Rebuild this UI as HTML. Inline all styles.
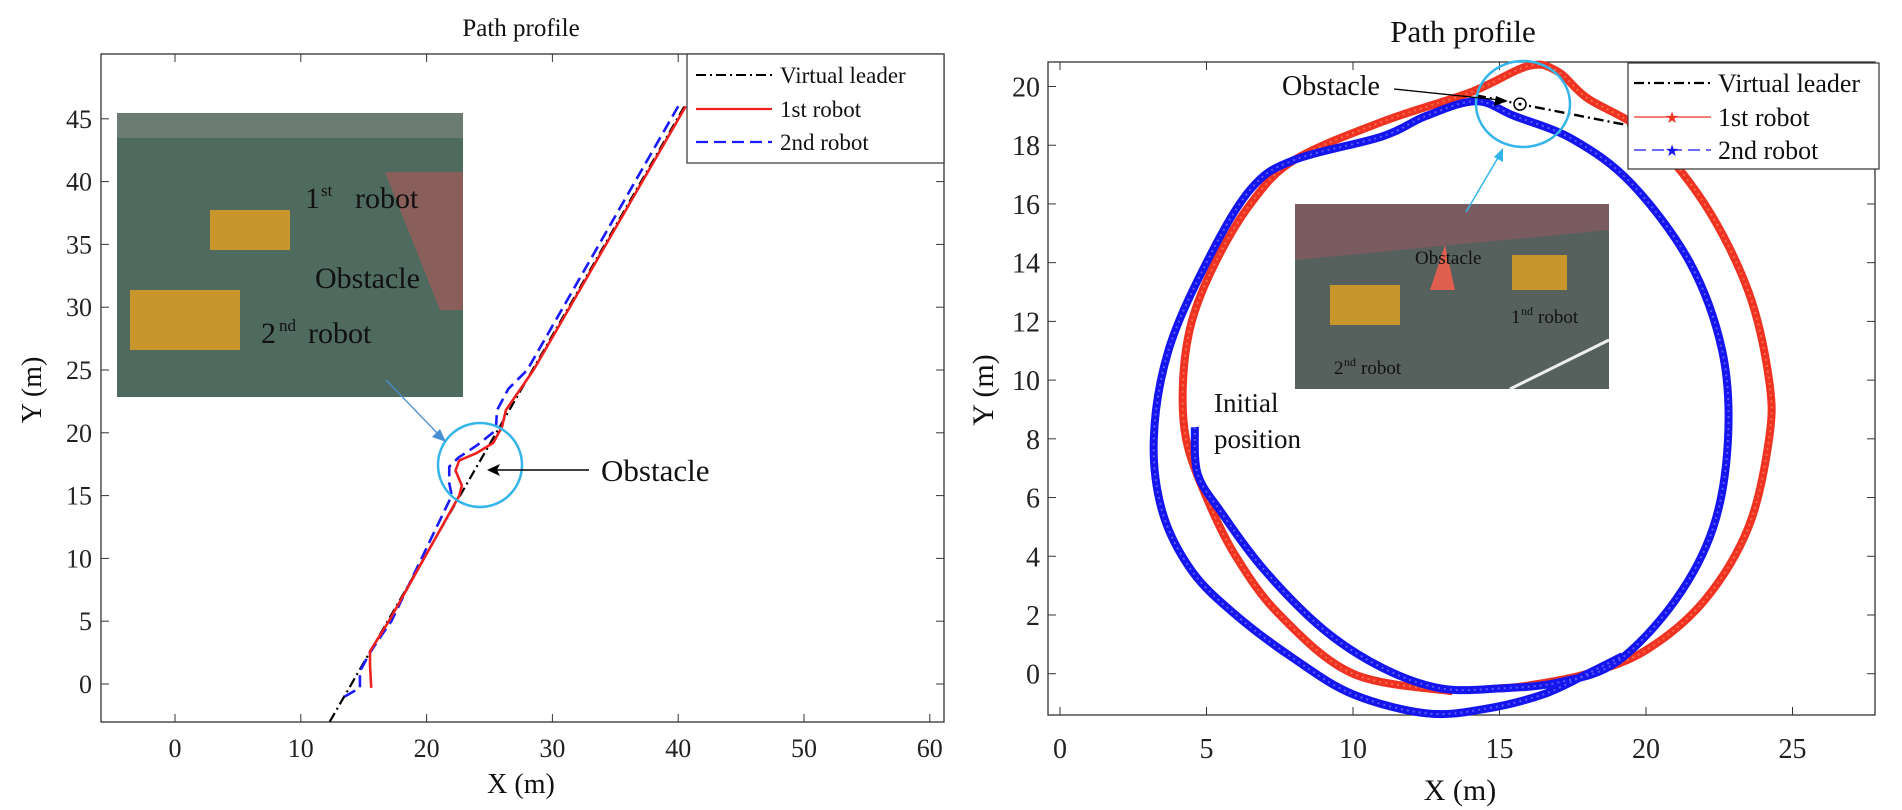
<!DOCTYPE html>
<html><head><meta charset="utf-8">
<style>
html,body{margin:0;padding:0;background:#fff;}
svg{display:block;font-family:"Liberation Serif",serif;}
</style></head>
<body>
<svg id="s" width="1902" height="810" viewBox="0 0 1902 810" xmlns="http://www.w3.org/2000/svg">
<rect width="1902" height="810" fill="#fff"/>
<g id="L"></g>
<g id="R"></g>
</svg>
<script>
const NS="http://www.w3.org/2000/svg";
function el(p,t,a,txt){const e=document.createElementNS(NS,t);for(const k in a)e.setAttribute(k,a[k]);if(txt!==undefined)e.textContent=txt;p.appendChild(e);return e;}
function smooth(pts){ // catmull-rom to bezier
 let d="M"+pts[0][0]+","+pts[0][1];
 for(let i=0;i<pts.length-1;i++){const p0=pts[i-1]||pts[i],p1=pts[i],p2=pts[i+1],p3=pts[i+2]||p2;
  const c1=[p1[0]+(p2[0]-p0[0])/6,p1[1]+(p2[1]-p0[1])/6],c2=[p2[0]-(p3[0]-p1[0])/6,p2[1]-(p3[1]-p1[1])/6];
  d+=" C"+c1[0].toFixed(1)+","+c1[1].toFixed(1)+" "+c2[0].toFixed(1)+","+c2[1].toFixed(1)+" "+p2[0].toFixed(1)+","+p2[1].toFixed(1);}
 return d;}
// ---------- LEFT ----------
const L=document.getElementById("L");
const lx=x=>175+12.58*x, ly=y=>684-12.56*y;
const LX0=101,LX1=944,LY0=54,LY1=722;
el(L,"text",{x:521,y:36,"font-size":25,"text-anchor":"middle",fill:"#111"},"Path profile");
// photo
el(L,"rect",{x:117,y:113,width:346,height:284,fill:"#4f6a5e"});
el(L,"rect",{x:117,y:113,width:346,height:25,fill:"#6d7c72"});
el(L,"polygon",{points:"385,172 463,172 463,310 440,310",fill:"#8a5e5a"});
el(L,"rect",{x:210,y:210,width:80,height:40,fill:"#c8962a"});
el(L,"rect",{x:130,y:290,width:110,height:60,fill:"#c8962a"});
el(L,"text",{x:305,y:208,"font-size":30,fill:"#111"},"1");
el(L,"text",{x:321,y:196,"font-size":17,fill:"#111"},"st");
el(L,"text",{x:355,y:208,"font-size":30,fill:"#111"},"robot");
el(L,"text",{x:315,y:288,"font-size":30,fill:"#111"},"Obstacle");
el(L,"text",{x:261,y:343,"font-size":30,fill:"#111"},"2");
el(L,"text",{x:279,y:331,"font-size":17,fill:"#111"},"nd");
el(L,"text",{x:308,y:343,"font-size":30,fill:"#111"},"robot");
// axes box
el(L,"rect",{x:LX0,y:LY0,width:LX1-LX0,height:LY1-LY0,fill:"none",stroke:"#333","stroke-width":1.3});
for(let v=0;v<=60;v+=10){const X=lx(v);el(L,"line",{x1:X,y1:LY1,x2:X,y2:LY1-8,stroke:"#333"});el(L,"line",{x1:X,y1:LY0,x2:X,y2:LY0+8,stroke:"#333"});
 el(L,"text",{x:X,y:757,"font-size":26,"text-anchor":"middle",fill:"#222"},v);}
for(let v=0;v<=45;v+=5){const Y=ly(v);el(L,"line",{x1:LX0,y1:Y,x2:LX0+8,y2:Y,stroke:"#333"});el(L,"line",{x1:LX1,y1:Y,x2:LX1-8,y2:Y,stroke:"#333"});
 el(L,"text",{x:92,y:Y+9,"font-size":26,"text-anchor":"end",fill:"#222"},v);}
el(L,"text",{x:521,y:793,"font-size":28,"text-anchor":"middle",fill:"#111"},"X (m)");
el(L,"text",{x:0,y:0,"font-size":28,"text-anchor":"middle",fill:"#111",transform:"translate(41,390) rotate(-90)"},"Y (m)");
// curves
const P=a=>a.map(p=>[lx(p[0]),ly(p[1])]);
el(L,"line",{x1:lx(12.3),y1:ly(-3),x2:lx(40.5),y2:ly(46),stroke:"#000","stroke-width":2.2,"stroke-dasharray":"10,4,2,4"});
const blue=[[13.5,-1],[14.7,-0.3],[14.7,1],[15.5,2.5],[16.5,4],[17.2,5],[22,15],[21.8,16],[21.8,17.3],[22.5,18],[24,19],[25.5,20.2],[25.6,21.8],[26.5,23.5],[28,25],[40,46]];
el(L,"polyline",{points:P(blue).join(" "),fill:"none",stroke:"#1a1aff","stroke-width":2.6,"stroke-dasharray":"12,6"});
const red=[[15.6,-0.3],[15.5,1.5],[15.5,2.6],[17,5],[22.6,15],[22.8,15.8],[22.3,17],[22.6,17.8],[24,18.4],[25.3,19.2],[26,20.5],[26.3,21.8],[28.5,25],[40.6,46]];
el(L,"polyline",{points:P(red).join(" "),fill:"none",stroke:"#ee2020","stroke-width":2.6,"stroke-linejoin":"round"});
el(L,"circle",{cx:480,cy:465,r:42,fill:"none",stroke:"#33b5ea","stroke-width":2.5});
el(L,"line",{x1:386,y1:380,x2:440,y2:436,stroke:"#4a90d0","stroke-width":1.3});
el(L,"polygon",{points:"446,442 432,437 440,429",fill:"#4a90d0"});
el(L,"line",{x1:589,y1:470,x2:495,y2:470,stroke:"#000","stroke-width":1.5});
el(L,"polygon",{points:"487,470 500,464 497,470 500,476",fill:"#000"});
el(L,"text",{x:601,y:481,"font-size":31,fill:"#111"},"Obstacle");
// legend
el(L,"rect",{x:687,y:54,width:257,height:109,fill:"#fff",stroke:"#333","stroke-width":1.2});
el(L,"line",{x1:696,y1:75,x2:772,y2:75,stroke:"#000","stroke-width":2,"stroke-dasharray":"10,4,2,4"});
el(L,"line",{x1:696,y1:109,x2:772,y2:109,stroke:"#ee2020","stroke-width":2.2});
el(L,"line",{x1:696,y1:142,x2:772,y2:142,stroke:"#1a1aff","stroke-width":2.2,"stroke-dasharray":"12,6"});
el(L,"text",{x:780,y:83,"font-size":23,fill:"#111"},"Virtual leader");
el(L,"text",{x:780,y:117,"font-size":23,fill:"#111"},"1st robot");
el(L,"text",{x:780,y:150,"font-size":23,fill:"#111"},"2nd robot");
// ---------- RIGHT ----------
const R=document.getElementById("R");
const rx=x=>1060+29.3*x, ry=y=>673.7-29.36*y;
const RX0=1048,RX1=1875,RY0=62,RY1=715;
el(R,"text",{x:1463,y:42,"font-size":31,"text-anchor":"middle",fill:"#111"},"Path profile");
el(R,"rect",{x:RX0,y:RY0,width:RX1-RX0,height:RY1-RY0,fill:"none",stroke:"#333","stroke-width":1.3});
for(let v=0;v<=25;v+=5){const X=rx(v);el(R,"line",{x1:X,y1:RY1,x2:X,y2:RY1-8,stroke:"#333"});el(R,"line",{x1:X,y1:RY0,x2:X,y2:RY0+8,stroke:"#333"});
 el(R,"text",{x:X,y:758,"font-size":28,"text-anchor":"middle",fill:"#222"},v);}
for(let v=0;v<=20;v+=2){const Y=ry(v);el(R,"line",{x1:RX0,y1:Y,x2:RX0+8,y2:Y,stroke:"#333"});el(R,"line",{x1:RX1,y1:Y,x2:RX1-8,y2:Y,stroke:"#333"});
 el(R,"text",{x:1040,y:Y+10,"font-size":28,"text-anchor":"end",fill:"#222"},v);}
el(R,"text",{x:1460,y:800,"font-size":30,"text-anchor":"middle",fill:"#111"},"X (m)");
el(R,"text",{x:0,y:0,"font-size":30,"text-anchor":"middle",fill:"#111",transform:"translate(993,390) rotate(-90)"},"Y (m)");
const Q=a=>a.map(p=>[rx(p[0]),ry(p[1])]);
const redR=[[13.4,-0.6],[10,0],[7.5,2],[6,4],[5,6],[4.3,8],[4.2,10],[4.5,12],[5.3,14],[6.5,16],[8,17.5],[11,18.8],[14,19.8],[16,20.7],[17,20.5],[18,19.6],[20,18.4],[22,16],[23.5,13],[24.2,10],[24.2,8],[23.5,5],[22,2.5],[20,0.8],[18,0],[16,-0.4],[15,-0.5]];
const blueR=[[4.6,8.4],[4.7,6.8],[5.5,5.5],[7,3.5],[9,1.5],[11,0.2],[13,-0.5],[15,-0.5],[17,-0.3],[19,0.4],[21,2.5],[22.3,5],[22.8,8],[22.6,11],[21.5,14],[19.5,16.7],[17.5,18.2],[15.5,19],[14.2,19.5],[12.5,19],[11,18.3],[8,17.5],[6.5,16.5],[5,14],[3.7,11],[3.2,8],[3.5,5.5],[4.5,3.5],[6,2],[8,0.5],[10,-0.7],[12.5,-1.35],[14.5,-1.2],[16.5,-0.7],[18,0],[19.2,0.6]];
el(R,"path",{d:smooth(Q(redR)),fill:"none",stroke:"#ee3322","stroke-width":8});
el(R,"path",{d:smooth(Q(redR)),fill:"none",stroke:"#ff6a4a","stroke-width":2,"stroke-dasharray":"2,4"});
el(R,"path",{d:smooth(Q(blueR)),fill:"none",stroke:"#1515ee","stroke-width":8});
el(R,"path",{d:smooth(Q(blueR)),fill:"none",stroke:"#5a5aff","stroke-width":2,"stroke-dasharray":"2,4"});
// leader
el(R,"polyline",{points:Q([[14.2,19.7],[15.7,19.4],[20.3,18.5]]).join(" "),fill:"none",stroke:"#000","stroke-width":2.4,"stroke-dasharray":"10,4,2,4"});
el(R,"circle",{cx:rx(15.7),cy:ry(19.4),r:6,fill:"#fff",stroke:"#000","stroke-width":1.5});
el(R,"circle",{cx:rx(15.7),cy:ry(19.4),r:1.5,fill:"#000"});
el(R,"ellipse",{cx:1523,cy:104,rx:47,ry:43,fill:"none",stroke:"#33b5ea","stroke-width":2.5});
el(R,"line",{x1:1394,y1:89,x2:1500,y2:100,stroke:"#000","stroke-width":1.3});
el(R,"polygon",{points:"1508,101 1494,106 1496,96",fill:"#000"});
el(R,"text",{x:1282,y:95,"font-size":28,fill:"#111"},"Obstacle");
// photo
el(R,"rect",{x:1295,y:204,width:314,height:185,fill:"#56615e"});
el(R,"polygon",{points:"1295,204 1609,204 1609,230 1295,260",fill:"#7a5b60"});
el(R,"line",{x1:1510,y1:389,x2:1609,y2:340,stroke:"#eee","stroke-width":3});
el(R,"rect",{x:1330,y:285,width:70,height:40,fill:"#c8962a"});
el(R,"rect",{x:1512,y:255,width:55,height:35,fill:"#c8962a"});
el(R,"polygon",{points:"1430,290 1445,245 1455,290",fill:"#e06050"});
el(R,"text",{x:1415,y:264,"font-size":19,fill:"#111"},"Obstacle");
el(R,"text",{x:1511,y:323,"font-size":19,fill:"#111"},"1");
el(R,"text",{x:1521,y:315,"font-size":12,fill:"#111"},"nd");
el(R,"text",{x:1538,y:323,"font-size":19,fill:"#111"},"robot");
el(R,"text",{x:1334,y:374,"font-size":19,fill:"#111"},"2");
el(R,"text",{x:1344,y:366,"font-size":12,fill:"#111"},"nd");
el(R,"text",{x:1361,y:374,"font-size":19,fill:"#111"},"robot");
el(R,"line",{x1:1466,y1:212,x2:1499,y2:156,stroke:"#33b5ea","stroke-width":1.5});
el(R,"polygon",{points:"1503,148 1503,162 1494,157",fill:"#33b5ea"});
el(R,"text",{x:1214,y:412,"font-size":27,fill:"#111"},"Initial");
el(R,"text",{x:1214,y:448,"font-size":27,fill:"#111"},"position");
// legend
el(R,"rect",{x:1628,y:63,width:251,height:106,fill:"#fff",stroke:"#333","stroke-width":1.2});
el(R,"line",{x1:1634,y1:83,x2:1711,y2:83,stroke:"#000","stroke-width":2.2,"stroke-dasharray":"10,4,2,4"});
el(R,"line",{x1:1634,y1:117,x2:1711,y2:117,stroke:"#ee3322","stroke-width":1.3});
el(R,"text",{x:1672,y:123,"font-size":16,"text-anchor":"middle",fill:"#ee3322"},"★");
el(R,"line",{x1:1634,y1:150,x2:1711,y2:150,stroke:"#1515ee","stroke-width":1.3,"stroke-dasharray":"12,6"});
el(R,"text",{x:1672,y:156,"font-size":16,"text-anchor":"middle",fill:"#1515ee"},"★");
el(R,"text",{x:1718,y:92,"font-size":26,fill:"#111"},"Virtual leader");
el(R,"text",{x:1718,y:126,"font-size":26,fill:"#111"},"1st robot");
el(R,"text",{x:1718,y:159,"font-size":26,fill:"#111"},"2nd robot");
</script>
</body></html>
